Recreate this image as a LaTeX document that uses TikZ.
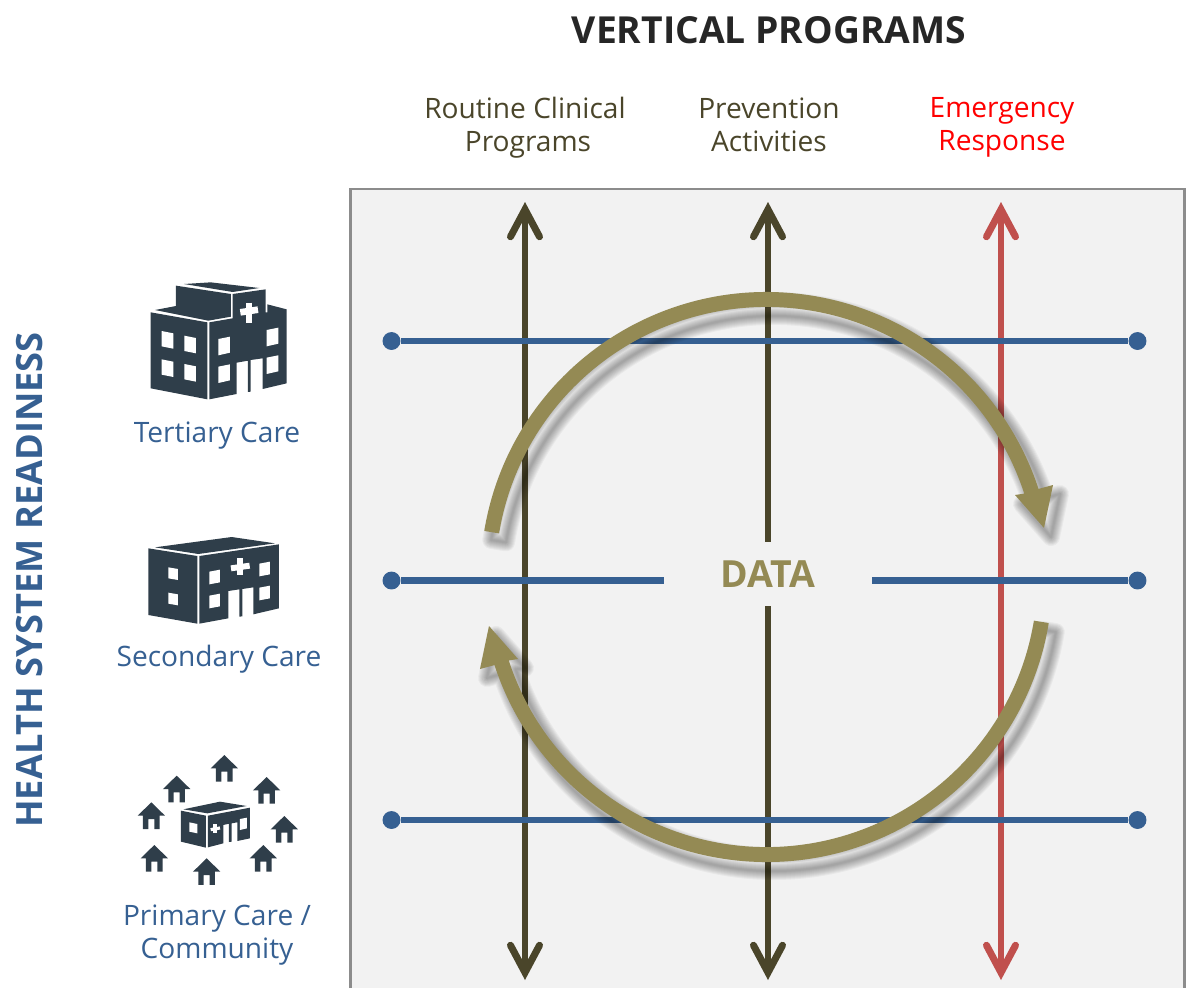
\documentclass[tikz,border=0pt]{standalone}
\usepackage{fontspec}
\setmainfont{Open Sans}
\usetikzlibrary{arrows.meta}
\definecolor{kblue}{HTML}{366092}
\definecolor{kdark}{HTML}{4A452A}
\definecolor{kred}{HTML}{C0504D}
\definecolor{kolive}{HTML}{948A54}
\definecolor{kicon}{HTML}{2F3E4A}
\definecolor{kpanel}{HTML}{F2F2F2}
\tikzset{
  kbarb/.tip={Straight Barb[length=15.5pt,width=16.5pt,line width=4pt,line cap=round]},
  progline/.style={line width=3.4pt,draw=kdark,arrows={kbarb-kbarb}},
  rowline/.style={line width=3.9pt,draw=kblue},
  rowdot/.style={circle,fill=kblue,minimum size=10.2pt,inner sep=0pt},
  rowlabel/.style={text=kblue,font=\fontsize{16}{18.7}\selectfont,align=center},
  proglabel/.style={text=kdark,font=\fontsize{16}{18.7}\selectfont,align=center},
  iconface/.style={fill=kicon},
  iconhole/.style={fill=white},
  hut/.pic={\fill[iconface] (0,0)--(41,40)--(25,40)--(25,80)--(9,80)--(9,50)--(-9,50)--(-9,80)--(-25,80)--(-25,40)--(-41,40)--cycle;}
}
\newcommand{\kupperarrow}{(189.3:286 and 285) arc[start angle=189.3,end angle=342,x radius=286,y radius=285]--(286.5,-92)--(277.5,-49)--(248.5,-82)--(342:271 and 270) arc[start angle=342,end angle=189.3,x radius=271,y radius=270]--cycle}
\newcommand{\klowerarrow}{(9.3:286 and 285) arc[start angle=9.3,end angle=162,x radius=286,y radius=285]--(-286.5,92)--(-277.5,49)--(-248.5,82)--(162:271 and 270) arc[start angle=162,end angle=9.3,x radius=271,y radius=270]--cycle}
\begin{document}
\begin{tikzpicture}[x=0.02cm,y=-0.02cm]
\useasboundingbox (0,0) rectangle (1187,988);
% panel runs off the bottom edge
\fill[kpanel] (350.5,988) rectangle (1184.5,189);
\draw[line width=1.2pt,draw=black!45] (350.5,988)--(350.5,189)--(1184.5,189)--(1184.5,988);
% titles
\node[text=black!85,font=\fontsize{21.2}{25}\selectfont\bfseries] (vtitle) at (769,30) {VERTICAL PROGRAMS};
\node[text=kblue,font=\fontsize{20.6}{24}\selectfont\bfseries,rotate=90] (htitle) at (30,580) {HEALTH SYSTEM READINESS};
\node[proglabel] (routine) at (525,127.5) {Routine Clinical\\\hspace{3.4pt}Programs};
\node[proglabel] (prevent) at (769,124.5) {Prevention\\Activities};
\node[proglabel,text=red] (emerg) at (1002,127.5) {Emergency\\Response};
\node[rowlabel] (tertiary) at (217,435.5) {Tertiary Care};
\node[rowlabel] (secondary) at (219,659) {Secondary Care};
\node[rowlabel] (primary) at (217,935) {Primary Care /\\Community};
% vertical programs
\coordinate (routinetop) at (525,202);
\coordinate (routinebot) at (525,980);
\coordinate (preventtop) at (768,202);
\coordinate (preventup) at (768,541.5);
\coordinate (preventdown) at (768,606);
\coordinate (preventbot) at (768,980);
\coordinate (emergtop) at (1001,202);
\coordinate (emergbot) at (1001,980);
\draw[progline] (routinebot)--(routinetop);
\draw[progline,arrows={-kbarb}] (preventup)--(preventtop);
\draw[progline,arrows={-kbarb}] (preventdown)--(preventbot);
\draw[progline,draw=kred] (emergbot)--(emergtop);
% health system rows
\node[rowdot] (tertleft) at (391.5,341) {};
\node[rowdot] (tertright) at (1137.5,341) {};
\node[rowdot] (secleft) at (391.5,580.5) {};
\node[rowdot] (secright) at (1137.5,580.5) {};
\node[rowdot] (primleft) at (391.5,820) {};
\node[rowdot] (primright) at (1137.5,820) {};
\coordinate (secgapleft) at (663.5,580.5);
\coordinate (secgapright) at (872,580.5);
\draw[rowline] (tertleft)--(tertright);
\draw[rowline] (secleft)--(secgapleft);
\draw[rowline] (secgapright)--(secright);
\draw[rowline] (primleft)--(primright);
% data cycle, soft shadow first
\begin{scope}[shift={(766.5,577)}]
\begin{scope}[shift={(7,9)}]
\foreach \kblur in {18,16,14,12,10,8,6,4,2}{
  \draw[black,opacity=0.04,line join=round,line width=\kblur*0.5669pt] \kupperarrow;
  \draw[black,opacity=0.04,line join=round,line width=\kblur*0.5669pt] \klowerarrow;
}
\end{scope}
\fill[kolive] \kupperarrow;
\fill[kolive] \klowerarrow;
\end{scope}
\node[text=kolive,font=\fontsize{21.3}{25}\selectfont\bfseries] (data) at (768,574) {DATA};
% tertiary care icon
\begin{scope}[shift={(120,270)},scale=0.3333]
\fill[iconface] (192,42)--(272,37)--(418,54)--(338,66)--cycle;
\fill[iconface] (168,47)--(333,72)--(333,140)--(265,152)--(105,120)--(168,108)--cycle;
\fill[iconface] (92,127)--(262,157)--(262,388)--(92,355)--cycle;
\fill[iconface] (268,157)--(338,145)--(338,72)--(437,58)--(437,127)--(442,127)--(442,103)--(500,118)--(500,340)--(428,357)--(428,265)--(392,270)--(392,365)--(384,366)--(384,272)--(350,278)--(350,372)--(268,388)--cycle;
\foreach \kwx/\kwy in {125/183,193/197,125/268,193/282}{
  \fill[iconhole] (\kwx,\kwy)--++(35,7)--++(0,46)--++(-35,-7)--cycle;
}
\foreach \kwx/\kwy in {295/207,295/290,440/180,440/263}{
  \fill[iconhole] (\kwx,\kwy)--++(35,-7)--++(0,48)--++(-35,8)--cycle;
}
\draw[white,line width=3.8pt] (361,127)--(414,119);
\draw[white,line width=3.8pt] (387,98)--(387,160);
\end{scope}
% secondary care icon
\begin{scope}[shift={(120,525)},scale=0.3333]
\fill[iconface] (105,67)--(335,36)--(465,55)--(235,87)--cycle;
\fill[iconface] (85,70)--(232,93)--(232,296)--(85,270)--cycle;
\fill[iconface] (238,93)--(477,58)--(477,250)--(400,268)--(400,187)--(367,192)--(367,274)--(358,275)--(358,193)--(325,198)--(325,280)--(238,296)--cycle;
\foreach \kwx/\kwy in {145/127,145/203}{
  \fill[iconhole] (\kwx,\kwy)--++(29,5)--++(0,33)--++(-29,-5)--cycle;
}
\foreach \kwx/\kwy in {268/140,268/212,418/116,418/188}{
  \fill[iconhole] (\kwx,\kwy)--++(32,-6)--++(0,38)--++(-32,6)--cycle;
}
\draw[white,line width=3.4pt] (333,130)--(389,122);
\draw[white,line width=3.4pt] (360,100)--(360,150);
\end{scope}
% primary care icon
\begin{scope}[shift={(120,745)},scale=0.3333]
\fill[iconface] (190,193)--(300,170)--(380,183)--(262,205)--cycle;
\fill[iconface] (183,197)--(258,212)--(258,308)--(183,290)--cycle;
\fill[iconface] (264,212)--(390,188)--(390,280)--(352,288)--(352,232)--(335,235)--(335,290)--(327,291)--(327,236)--(310,240)--(310,295)--(264,307)--cycle;
\fill[iconhole] (208,232)--(232,237)--(232,265)--(208,260)--cycle;
\fill[iconhole] (360,222)--(381,218)--(381,250)--(360,255)--cycle;
\draw[white,line width=1.8pt] (272,254)--(300,249);
\draw[white,line width=1.8pt] (285,238)--(285,264);
\foreach \khx/\khy in {313/30,170/92,440/96,94/172,493/213,103/300,430/300,260/340}{
  \pic[transform shape] at (\khx,\khy) {hut};
}
\end{scope}
\end{tikzpicture}
\end{document}
